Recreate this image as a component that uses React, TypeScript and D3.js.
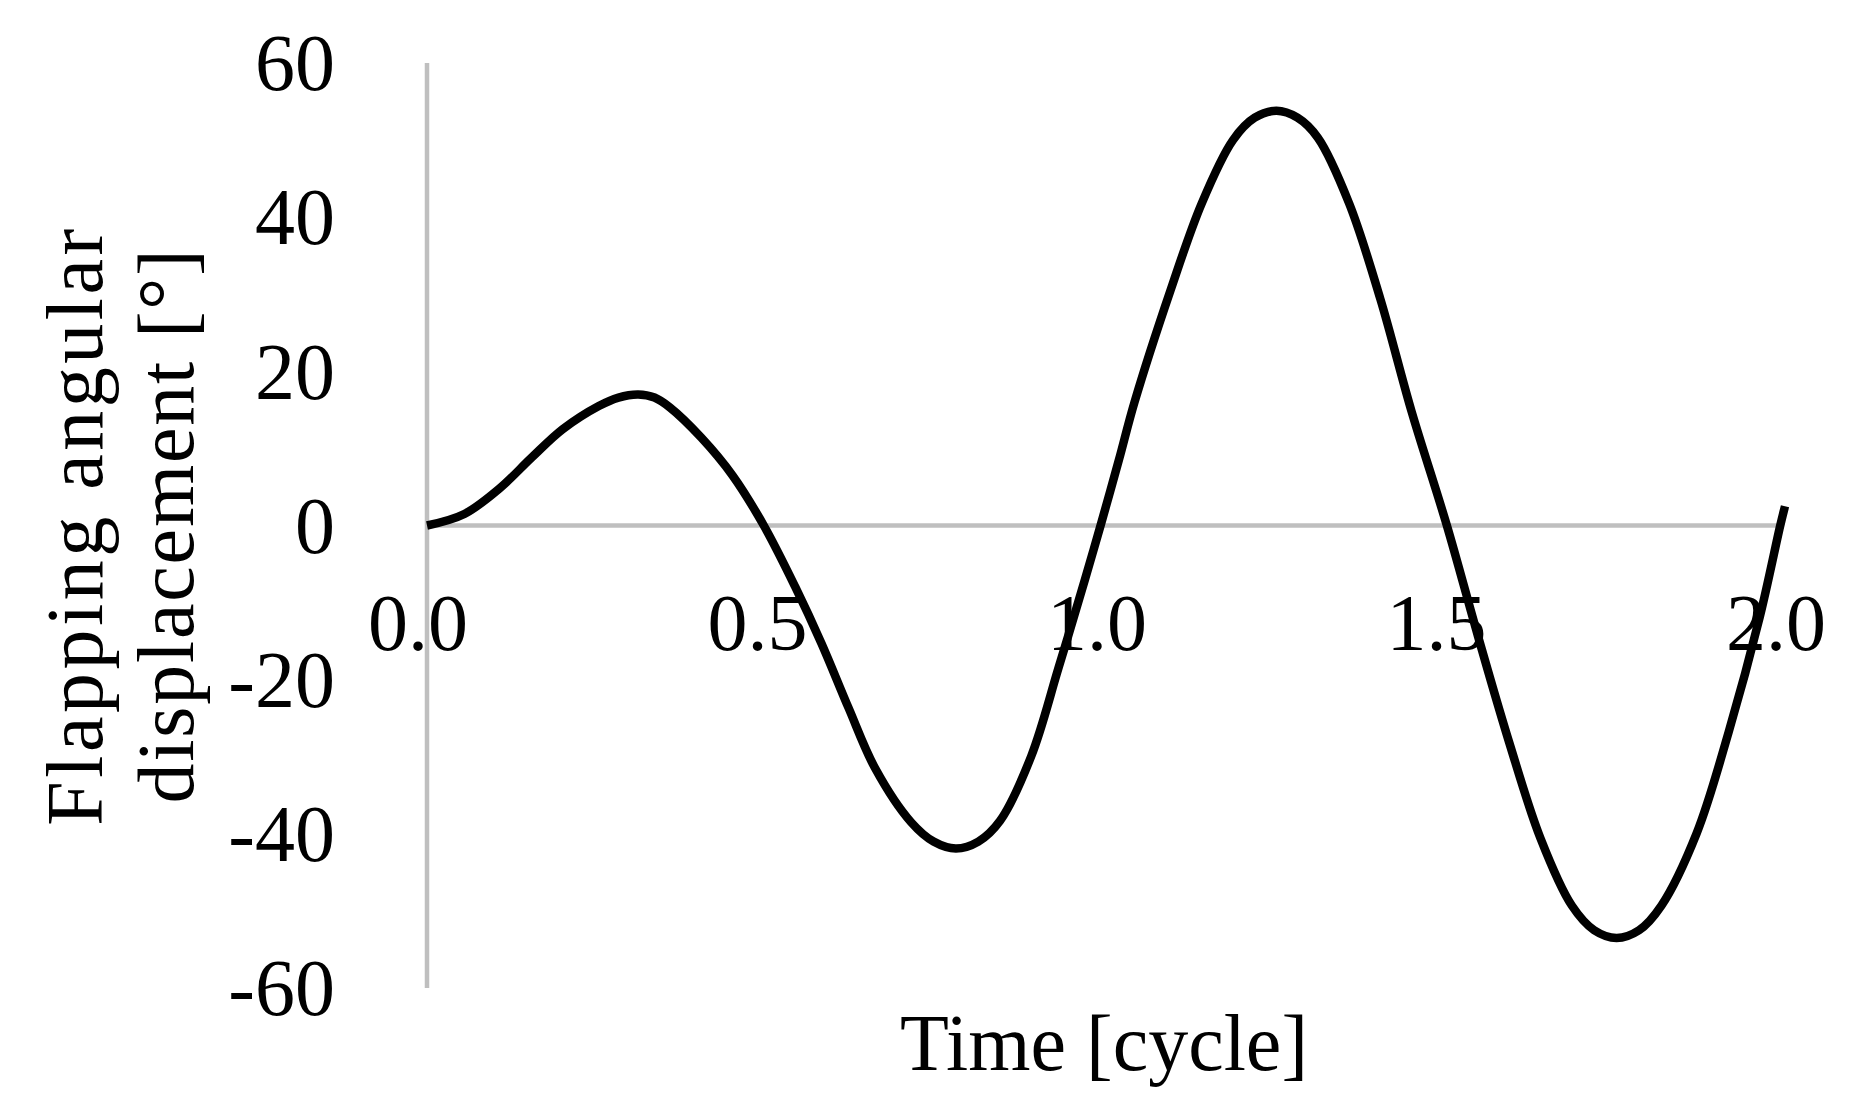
import * as d3 from 'd3';

// Time in cycles and flapping angle in degrees
const timeCycle = [
  0.0, 0.055, 0.108, 0.154, 0.2, 0.253, 0.282, 0.311, 0.335, 0.358, 0.404, 0.45, 0.496,
  0.542, 0.581, 0.621, 0.66, 0.713, 0.746, 0.779, 0.812, 0.844, 0.89, 0.93, 0.969, 0.992,
  1.019, 1.042, 1.095, 1.141, 1.187, 1.219, 1.251, 1.282, 1.312, 1.358, 1.404, 1.45, 1.502,
  1.548, 1.594, 1.64, 1.686, 1.719, 1.752, 1.785, 1.818, 1.87, 1.917, 1.963, 1.993, 2.0,
];
const angleDeg = [
  0.0, 1.5, 4.9, 8.8, 12.5, 15.5, 16.6, 17.0, 16.6, 15.3, 11.4, 6.5, 0.0,
  -7.9, -15.3, -23.7, -31.5, -38.5, -41.0, -41.9, -41.0, -38.3, -29.9, -18.5, -7.0, 0.0,
  8.5, 16.0, 30.5, 41.8, 50.0, 52.9, 53.8, 52.9, 50.3, 41.8, 29.4, 14.8, 0.0,
  -14.4, -28.2, -40.6, -49.3, -52.5, -53.5, -52.5, -49.3, -39.9, -26.8, -11.8, 0.0, 2.5,
];

const xTicks = [0, 0.5, 1.0, 1.5, 2.0];
const yTicks = [60, 40, 20, 0, -20, -40, -60];

const xTitle = 'Time [cycle]';
const yTitleLines = ['Flapping angular', 'displacement [°]'];

const WIDTH = 1863;
const HEIGHT = 1115;
const FONT = '"Liberation Serif", "Times New Roman", serif';
const AXIS_GRAY = '#bfbfbf';

export default function App() {
  const margin = { top: 63, right: 78, bottom: 127, left: 427 };

  const xScale = d3
    .scaleLinear()
    .domain([0, 2])
    .range([margin.left, WIDTH - margin.right]);

  const yScale = d3
    .scaleLinear()
    .domain([-60, 60])
    .range([HEIGHT - margin.bottom, margin.top]);

  const points: [number, number][] = timeCycle.map((t, i) => [t, angleDeg[i]]);

  // smooth line through the read points
  const line = d3
    .line<[number, number]>()
    .x((d) => xScale(d[0]))
    .y((d) => yScale(d[1]))
    .curve(d3.curveCatmullRom.alpha(0.5));

  const x0 = xScale(0);
  const y0 = yScale(0);
  const plotMidX = (xScale(0) + xScale(2)) / 2;
  const plotMidY = (yScale(60) + yScale(-60)) / 2;

  return (
    <svg
      width={WIDTH}
      height={HEIGHT}
      style={{ position: 'absolute', left: 0, top: 0, display: 'block', background: '#fff' }}
      fontFamily={FONT}
    >
      {/* axes */}
      <line x1={x0} x2={x0} y1={yScale(60)} y2={yScale(-60)} stroke={AXIS_GRAY} strokeWidth={4.5} />
      <line x1={xScale(0)} x2={xScale(2) - 3} y1={y0} y2={y0} stroke={AXIS_GRAY} strokeWidth={4.5} />

      {/* y tick labels */}
      {yTicks.map((v) => (
        <text
          key={`y${v}`}
          x={335}
          y={yScale(v)}
          dy="0.34em"
          textAnchor="end"
          fontSize={80}
          fill="#000"
        >
          {v}
        </text>
      ))}

      {/* x tick labels */}
      {xTicks.map((v) => (
        <text
          key={`x${v}`}
          x={xScale(v) - 9}
          y={650}
          textAnchor="middle"
          fontSize={80}
          fill="#000"
        >
          {v.toFixed(1)}
        </text>
      ))}

      {/* data line */}
      <path d={line(points) ?? ''} fill="none" stroke="#000" strokeWidth={8.5} strokeLinejoin="round" />

      {/* axis titles */}
      <text x={plotMidX - 2} y={1070} textAnchor="middle" fontSize={80} fill="#000">
        {xTitle}
      </text>
      {yTitleLines.map((s, i) => (
        <text
          key={s}
          transform={`translate(${102 + i * 91},${plotMidY}) rotate(-90)`}
          textAnchor="middle"
          fontSize={80}
          letterSpacing={i === 0 ? 3.5 : 1.8}
          fill="#000"
        >
          {s}
        </text>
      ))}
    </svg>
  );
}
